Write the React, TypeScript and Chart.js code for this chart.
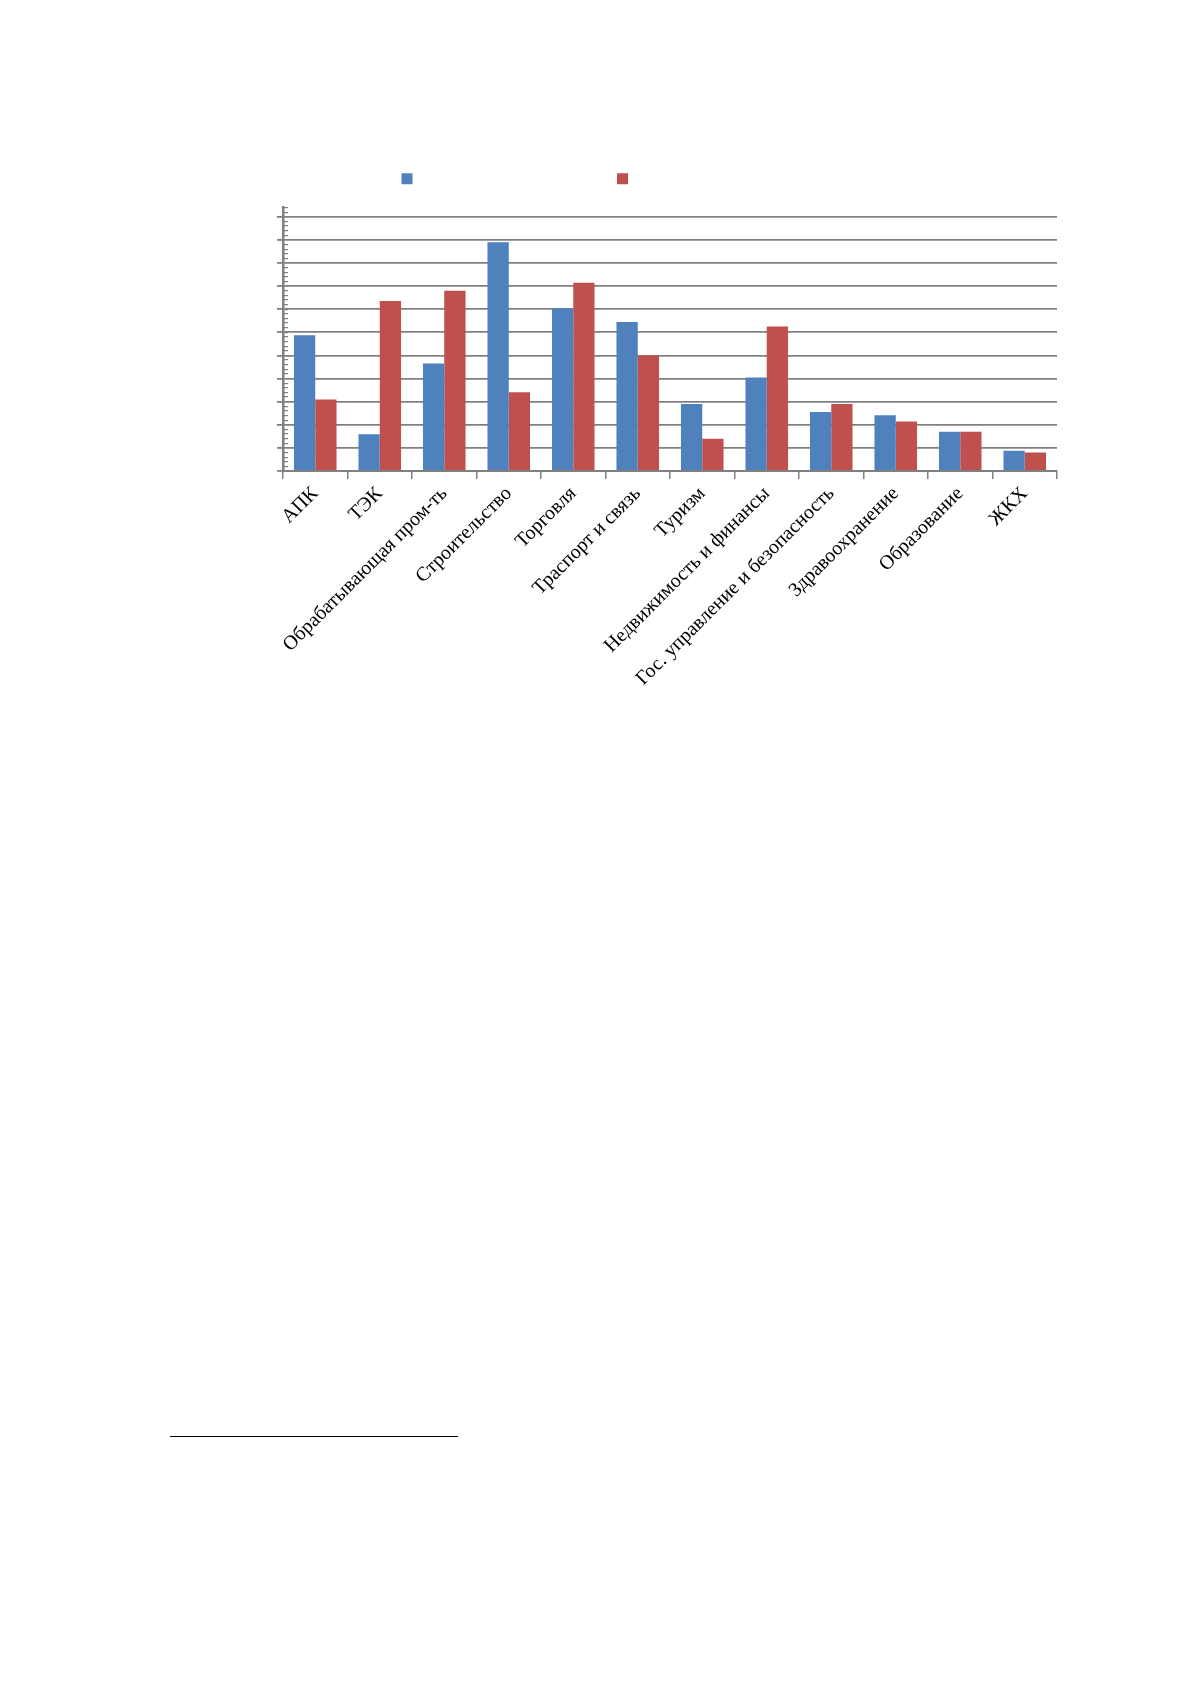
import { Chart, registerables, type ChartConfiguration } from "chart.js";
import { useEffect, useRef } from "react";

Chart.register(...registerables);

const categories = [
  "АПК",
  "ТЭК",
  "Обрабатывающая пром-ть",
  "Строительство",
  "Торговля",
  "Траспорт и связь",
  "Туризм",
  "Недвижимость и финансы",
  "Гос. управление и безопасность",
  "Здравоохранение",
  "Образование",
  "ЖКХ",
];

// legend captions are white in the source, so they only hold the space
const seriesNames = ["Ряд1", "Ряд2"];
const seriesBlue = [5.87, 1.59, 4.65, 9.9, 7.03, 6.45, 2.9, 4.04, 2.55, 2.41, 1.7, 0.88];
const seriesRed = [3.09, 7.35, 7.8, 3.41, 8.14, 5.0, 1.39, 6.25, 2.9, 2.14, 1.7, 0.8];

const yMax = 11.4;
const majorStep = 1;
const minorStep = 0.2;

const gridGray = "#808080";

function buildConfig(): ChartConfiguration<"bar"> {
  return {
    type: "bar",
    data: {
      labels: categories,
      datasets: [
        { label: seriesNames[0], data: seriesBlue, backgroundColor: "#4f81bd" },
        { label: seriesNames[1], data: seriesRed, backgroundColor: "#c0504d" },
      ],
    },
    options: {
      responsive: true,
      maintainAspectRatio: false,
      animation: false,
      layout: {
        padding: { left: 167, right: 134, top: 150, bottom: 0 },
      },
      datasets: {
        bar: {
          categoryPercentage: 0.66,
          barPercentage: 1,
        },
      },
      plugins: {
        legend: {
          position: "top",
          labels: {
            boxWidth: 11,
            boxHeight: 11,
            padding: 10,
            color: "rgba(255,255,255,0)",
            font: { family: "Liberation Serif", size: 37.5 },
            generateLabels(chart) {
              const items = Chart.defaults.plugins.legend.labels.generateLabels(chart);
              return items.map((item) => ({
                ...item,
                text: item.text + "\u2002".repeat(5) + "\u2009",
                lineWidth: 0,
              }));
            },
          },
        },
        tooltip: { enabled: false },
      },
      scales: {
        x: {
          border: { color: gridGray, width: 2 },
          grid: {
            drawOnChartArea: false,
            color: gridGray,
            lineWidth: 1.5,
            tickLength: 8,
          },
          ticks: {
            color: "#000000",
            font: { family: "Liberation Serif", size: 20 },
            maxRotation: 45,
            minRotation: 45,
            autoSkip: false,
          },
          afterFit(scale) {
            scale.height = 289;
          },
        },
        y: {
          min: 0,
          max: yMax,
          border: { color: gridGray, width: 2.5 },
          grid: {
            color: gridGray,
            lineWidth: 1.8,
            tickLength: 6,
          },
          ticks: { display: false, stepSize: majorStep, includeBounds: false },
          afterFit(scale) {
            scale.width = 116;
          },
        },
        yMinor: {
          type: "linear",
          axis: "y",
          position: { x: -0.5 },
          min: 0,
          max: yMax,
          border: { display: false },
          grid: {
            drawOnChartArea: false,
            color: gridGray,
            lineWidth: 1.2,
            tickLength: -5,
          },
          ticks: { display: false, stepSize: minorStep },
        },
      },
    },
  };
}

function BarChart() {
  const canvasRef = useRef<HTMLCanvasElement>(null);

  useEffect(() => {
    if (!canvasRef.current) {
      return;
    }
    const chart = new Chart(canvasRef.current, buildConfig());
    return () => {
      chart.destroy();
    };
  }, []);

  return <canvas ref={canvasRef} />;
}

export default function App() {
  return (
    <>
      <div style={{ position: "absolute", left: 0, top: 0, width: 1191, height: 760 }}>
        <BarChart />
      </div>
      <div
        style={{
          position: "absolute",
          left: 170,
          top: 1436,
          width: 288,
          height: 1,
          background: "#000000",
        }}
      />
    </>
  );
}
